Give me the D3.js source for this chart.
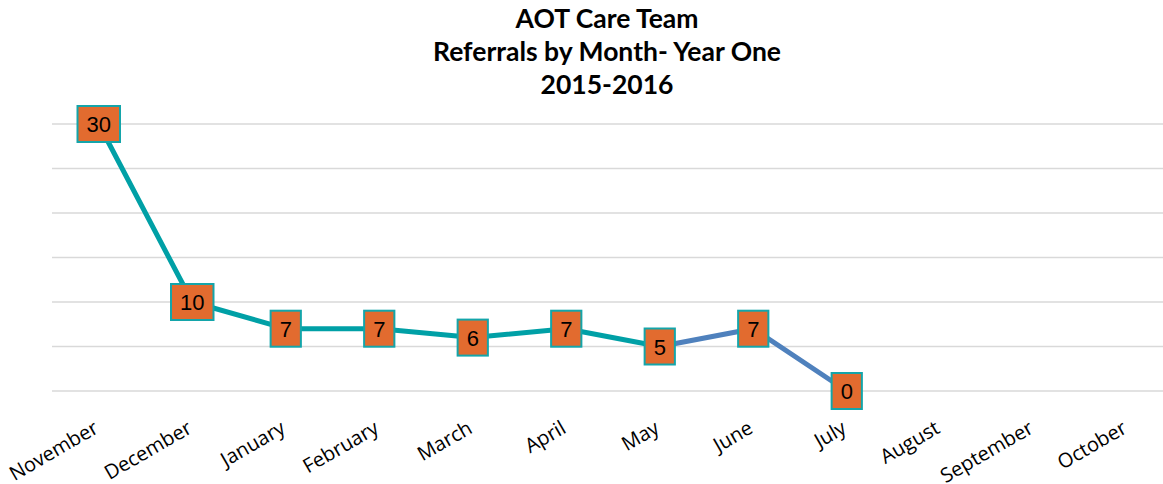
<!DOCTYPE html>
<html>
<head>
<meta charset="utf-8">
<script src="https://cdn.jsdelivr.net/npm/d3@7"></script>
<style>
  html, body { margin: 0; padding: 0; background: #fff; }
  svg { display: block; }
  .title { font-family: Lato, "Open Sans", sans-serif; font-weight: bold; font-size: 26.5px; fill: #000; }
  .month { font-family: "Open Sans", sans-serif; font-size: 20px; fill: #000; }
  .val { font-family: "Liberation Sans", Arial, sans-serif; font-size: 22px; fill: #000; }
</style>
</head>
<body>
<svg id="chart" width="1163" height="484"></svg>
<script>
// Referrals by month, year one
const months = ['November', 'December', 'January', 'February', 'March', 'April',
  'May', 'June', 'July', 'August', 'September', 'October'];
const referrals = [30, 10, 7, 7, 6, 7, 5, 7, 0];
const yTicks = [0, 5, 10, 15, 20, 25, 30];
const titleLines = ['AOT Care Team', 'Referrals by Month- Year One', '2015-2016'];
// line changes colour after this month
const splitMonth = 'May';

const width = 1163, height = 484;
const svg = d3.select('#chart');

// plot area runs a little past the right edge of the picture
const x = d3.scaleBand().domain(months).range([52, 1174]).padding(0);
const y = d3.scaleLinear().domain([0, 30]).range([391, 124]);

// gridlines
svg.append('g')
  .selectAll('line')
  .data(yTicks)
  .enter()
  .append('line')
  .attr('x1', 52)
  .attr('x2', width)
  .attr('y1', d => y(d))
  .attr('y2', d => y(d))
  .attr('stroke', '#d9d9d9')
  .attr('stroke-width', 1.5);

// title
svg.append('g')
  .selectAll('text')
  .data(titleLines)
  .enter()
  .append('text')
  .attr('class', 'title')
  .attr('x', 607)
  .attr('y', (d, i) => 28 + i * 33)
  .attr('text-anchor', 'middle')
  .text(d => d);

// month labels
svg.append('g')
  .selectAll('text')
  .data(months)
  .enter()
  .append('text')
  .attr('class', 'month')
  .attr('text-anchor', 'end')
  .attr('transform', d => `translate(${x(d) + x.bandwidth() / 2 + 1},${432}) rotate(-30)`)
  .text(d => d);

const points = referrals.map((v, i) => ({ month: months[i], value: v }));
const split = months.indexOf(splitMonth);

const line = d3.line()
  .x(d => x(d.month) + x.bandwidth() / 2)
  .y(d => y(d.value));

svg.append('path')
  .datum(points.slice(split))
  .attr('d', line)
  .attr('fill', 'none')
  .attr('stroke', '#4f81bd')
  .attr('stroke-width', 5);

svg.append('path')
  .datum(points.slice(0, split + 1))
  .attr('d', line)
  .attr('fill', 'none')
  .attr('stroke', '#00a0a6')
  .attr('stroke-width', 5)
  .attr('stroke-linejoin', 'round');

// value boxes
const labels = svg.append('g')
  .selectAll('g')
  .data(points)
  .enter()
  .append('g')
  .attr('transform', d => `translate(${x(d.month) + x.bandwidth() / 2},${y(d.value)})`);

labels.append('rect')
  .attr('fill', '#e26b2f')
  .attr('stroke', '#14a5aa')
  .attr('stroke-width', 2);

labels.append('text')
  .attr('class', 'val')
  .attr('text-anchor', 'middle')
  .attr('dy', 8)
  .text(d => d.value);

labels.each(function() {
  const g = d3.select(this);
  const w = g.select('text').node().getComputedTextLength() + 18;
  g.select('rect')
    .attr('x', -w / 2)
    .attr('y', -18)
    .attr('width', w)
    .attr('height', 36);
});
</script>
</body>
</html>
